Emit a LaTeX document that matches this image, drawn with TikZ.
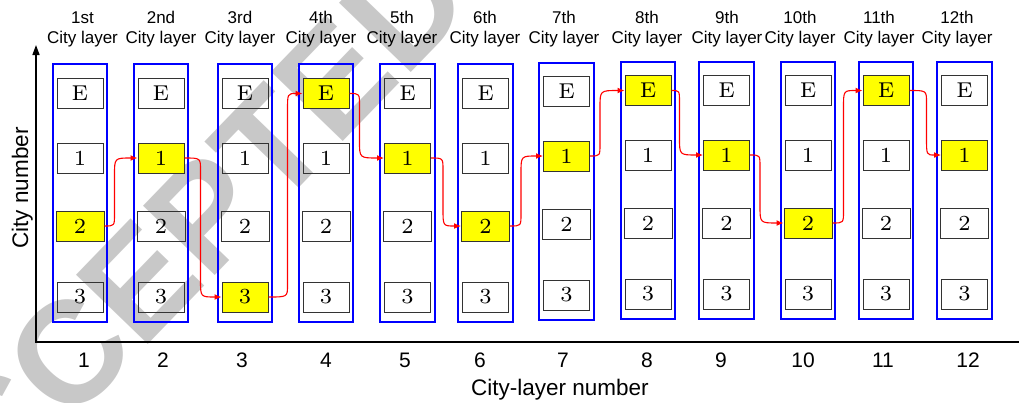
\documentclass[tikz,border=0pt]{standalone}
\usepackage{fontspec}
\newfontfamily\arial{Liberation Sans}
\newfontfamily\cmfont{lmroman7-regular}[Extension=.otf]
\usetikzlibrary{arrows.meta,calc}
\definecolor{wm}{RGB}{200,200,200}
\definecolor{yel}{RGB}{255,255,0}
\tikzset{
 pick/.code 2 args={\edef\tmpa{#1}\edef\tmpb{#2}\ifx\tmpa\tmpb\pgfkeysalso{/tikz/fill=yel}\fi},
 colrect/.style={draw=blue, line width=2pt},
 cbox/.style={draw=black!80, line width=1pt, minimum height=30pt, inner sep=0pt, font=\cmfont\fontsize{21.5}{21.5}\selectfont},
 hdr/.style={font=\arial\fontsize{17}{20}\selectfont, anchor=base, inner sep=0pt},
 num/.style={font=\arial\fontsize{21}{21}\selectfont, anchor=base, inner sep=0pt},
 axlab/.style={font=\arial\fontsize{22.5}{22.5}\selectfont, anchor=base, inner sep=0pt},
 link/.style={draw=red, line width=1.1pt, -{Latex[length=7pt,width=6pt]}},
 axisline/.style={line width=1.5pt, draw=black},
 wmark/.style={text=wm, font=\arial\bfseries\fontsize{145}{145}\selectfont, inner sep=0pt}
}
\begin{document}
\begin{tikzpicture}[x=1pt,y=-1pt]
\useasboundingbox (0,0) rectangle (1019,402);
% watermark
\node[wmark, rotate=46] (wmk) at (164,256) {ACCEPTED};
% axes
\coordinate (ytop) at (36,45);
\coordinate (org) at (36,342);
\coordinate (xend) at (1019,342);
\draw[axisline, {Triangle[length=10pt,width=7pt]}-] (ytop) -- (org) -- (xend);
% columns
\foreach \i/\xl/\xr/\yt/\yb/\of/\ysel in {1/53/107/64/322/0/2, 2/134/188/64/322/0/1, 3/218/272/64/322/0/3, 4/299/353/64/322/0/E, 5/380/435/64/322/0/1, 6/458/513/64/322/0/2, 7/539/594/63/320/-2/1, 8/621/675/62/319/-3/E, 9/699/754/62/319/-3/1, 10/781/835/62/319/-3/2, 11/859/913/62/319/-3/E, 12/937/992/62/319/-3/1}{
  \draw[colrect] (\xl,\yt) rectangle (\xr,\yb);
  \foreach \rw/\ry/\bw in {E/93.5/46,1/158/46,2/226/48,3/297/46}{
    \node[cbox, minimum width=\bw pt, pick={\rw}{\ysel}] (c\i-\rw) at ({(\xl+\xr)/2},{\ry+(\of)}) {\rw};
  }
}
% headers
\foreach \i/\x/\t in {1/82.5/1st, 2/161/2nd, 3/240/3rd, 4/321/4th, 5/402/5th, 6/485/6th, 7/564/7th, 8/647/8th, 9/727/9th, 10/800/10th, 11/879/11th, 12/957/12th}{
  \node[hdr] (ha\i) at (\x,23) {\t};
  \node[hdr] (hb\i) at (\x,43) {City layer};
}
% axis numbers
\foreach \i/\x in {1/84, 2/163, 3/242, 4/326, 5/405, 6/480, 7/563, 8/647, 9/721, 10/803, 11/883, 12/968}{
  \node[num] (n\i) at (\x,367) {\i};
}
\node[axlab] (xlab) at (560,395) {City-layer number};
\node[axlab, rotate=90] (ylab) at (28,188) {City number};
% path
\foreach \a/\b/\d in {1-2/2-1/10, 2-1/3-3/16, 3-3/4-E/19, 4-E/5-1/10, 5-1/6-2/12, 6-2/7-1/11, 7-1/8-E/10, 8-E/9-1/8, 9-1/10-2/10, 10-2/11-E/11, 11-E/12-1/17}{
  \coordinate (p1) at ($(c\a.east)+(\d,0)$);
  \coordinate (p2) at (p1 |- c\b.west);
  \draw[link] (c\a.east) .. controls (p1) .. ($(p1)!12pt!(p2)$) -- ($(p2)!17pt!(p1)$) .. controls (p2) .. (c\b.west);
}
\end{tikzpicture}
\end{document}
